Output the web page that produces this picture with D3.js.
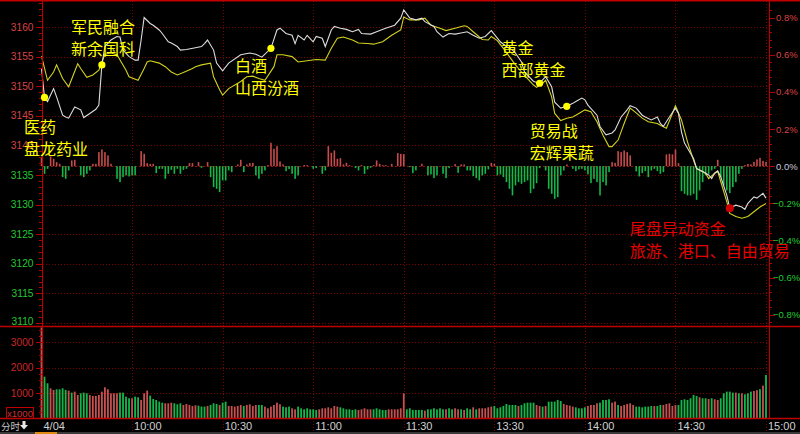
<!DOCTYPE html>
<html><head><meta charset="utf-8">
<script src="https://cdn.jsdelivr.net/npm/d3@7"></script>
<style>html,body{margin:0;padding:0;background:#000;overflow:hidden}svg{display:block}</style>
</head><body><svg id="c" width="800" height="434"></svg>
<script>
// ---------------- data ----------------
const preClose = 3136.5;
const priceTicks = [3110,3115,3120,3125,3130,3135,3140,3145,3150,3155,3160];
const pctTicks = [-0.8,-0.6,-0.4,-0.2,0,0.2,0.4,0.6,0.8];
const volTicks = [1000,2000,3000];
const timeTicks = [0,30,60,90,120,150,180,210,240];
const timeLabels = ["4/04","10:00","10:30","11:00","11:30","13:30","14:00","14:30","15:00"];

// index (white line): minute index since 9:30, value
const indexIdx = [0,1,2,4,5,7,8,9,11,13,14,16,18,19,20,21,23,25,26,27,29,31,32,33,34,36,37,39,40,42,43,45,46,48,51,53,54,55,57,58,60,62,66,69,71,73,76,78,79,81,83,84,85,87,88,90,91,93,94,96,97,99,101,103,105,106,109,111,114,117,119,120,122,124,126,127,130,131,133,135,137,139,141,143,145,147,149,152,154,156,157,159,160,163,165,167,169,170,172,174,176,177,179,180,181,184,185,187,189,190,192,194,195,197,199,200,202,204,205,206,208,210,211,212,213,216,217,219,221,222,223,224,225,227,228,230,232,233,234,236,237,239,240];
const indexVal = [3153.0,3148.1,3147.4,3149.6,3148.2,3145.1,3144.8,3144.6,3146.5,3146.0,3144.7,3145.4,3146.1,3146.8,3153.6,3156.7,3157.8,3158.4,3158.3,3156.1,3155.0,3154.4,3154.4,3157.8,3161.6,3160.6,3160.3,3159.5,3158.9,3157.5,3157.3,3156.7,3156.1,3156.2,3156.5,3156.7,3157.2,3157.8,3156.1,3153.9,3152.6,3153.9,3155.3,3155.6,3155.4,3154.9,3156.4,3159.5,3159.8,3158.9,3158.6,3157.2,3158.6,3157.8,3158.6,3157.5,3158.4,3158.1,3156.7,3159.5,3160.1,3159.8,3159.6,3159.2,3159.6,3158.9,3158.8,3159.2,3159.8,3160.3,3161.5,3162.9,3161.5,3161.2,3161.5,3160.9,3160.1,3159.2,3158.3,3158.9,3158.8,3159.0,3159.2,3158.6,3158.1,3158.4,3159.4,3157.5,3156.7,3156.1,3155.6,3154.1,3152.4,3150.8,3150.5,3151.6,3149.9,3147.3,3146.3,3146.6,3147.1,3147.4,3148.0,3147.7,3146.8,3145.1,3143.2,3141.8,3142.1,3142.6,3144.8,3146.0,3146.7,3146.3,3145.1,3144.8,3144.3,3144.8,3143.7,3143.2,3144.8,3146.3,3145.4,3142.3,3140.4,3137.8,3136.1,3135.6,3135.0,3134.4,3135.3,3135.7,3134.7,3131.6,3129.4,3129.9,3129.6,3129.2,3130.2,3131.3,3131.1,3131.9,3131.1];

// average (yellow line)
const avgIdx = [0,2,4,5,7,9,12,13,15,17,19,20,21,23,25,28,29,32,34,35,36,39,41,43,45,47,50,51,53,56,57,59,60,62,66,68,70,72,74,77,78,80,83,85,88,91,94,96,98,100,103,105,108,110,113,116,119,120,122,125,127,129,132,134,137,140,141,143,146,148,149,151,153,155,157,159,161,163,164,166,167,169,170,172,174,176,178,180,182,184,186,188,189,191,193,195,197,199,201,204,205,207,209,210,212,214,216,217,220,221,223,224,225,227,228,230,232,234,236,238,240];
const avgVal = [3155.1,3151.0,3152.4,3153.6,3151.3,3149.9,3153.8,3153.0,3151.5,3151.9,3152.7,3154.1,3155.4,3155.6,3155.3,3152.7,3151.6,3151.0,3153.0,3154.1,3154.3,3153.9,3153.3,3152.4,3151.9,3152.3,3153.0,3153.3,3153.6,3153.9,3151.6,3149.4,3148.5,3149.6,3150.8,3151.6,3151.7,3151.3,3151.0,3153.3,3155.3,3155.3,3155.0,3154.1,3154.3,3154.5,3154.4,3156.4,3158.1,3158.3,3157.8,3157.3,3157.2,3157.1,3157.5,3158.6,3159.5,3161.7,3161.2,3161.2,3161.5,3160.3,3159.8,3159.4,3159.8,3160.2,3160.1,3159.2,3157.9,3157.8,3158.4,3157.7,3156.4,3155.0,3153.6,3152.4,3151.3,3150.2,3149.8,3150.5,3151.0,3148.2,3145.4,3144.2,3144.6,3144.8,3145.4,3146.0,3145.7,3144.0,3141.7,3139.8,3139.8,3140.9,3143.7,3146.3,3145.5,3144.6,3144.0,3143.7,3143.4,3142.9,3145.4,3146.7,3144.3,3140.6,3137.5,3136.1,3135.3,3134.4,3135.3,3135.6,3133.9,3130.5,3128.5,3128.0,3127.7,3128.0,3128.8,3129.6,3130.2];

// buy/sell strength bars around the 0% line (positive red, negative green)
const strengthIdx = [0,1,2,3,4,5,6,7,8,9,10,11,13,14,15,16,17,18,19,20,21,22,23,25,26,27,28,29,30,31,33,34,35,36,37,38,39,40,41,42,43,44,45,46,47,48,49,50,52,53,55,56,57,58,59,60,61,62,63,65,66,67,68,69,70,71,72,73,74,75,76,77,78,79,80,81,82,83,84,85,87,88,90,91,93,94,95,96,97,98,99,100,101,102,104,105,106,107,108,109,110,111,112,113,114,116,118,119,120,122,123,124,126,128,129,130,131,133,134,135,137,138,139,140,141,142,143,144,145,146,147,148,149,150,151,152,153,154,155,156,157,158,159,160,161,162,163,164,165,167,168,169,170,171,172,173,174,176,177,178,179,180,181,182,183,184,185,186,187,188,189,190,191,192,193,194,195,197,198,199,200,201,202,203,204,205,206,207,208,209,210,211,212,213,214,215,216,217,218,219,220,221,222,223,224,225,226,227,228,229,230,231,232,233,234,235,236,237,238,239,240];
const strengthVal = [9,-7.7,-2.7,9.7,7.3,4,2.3,-11,-12.7,-4.3,5.7,6.3,-9.3,-11,-7.7,-4.3,2.3,2.3,14,16.7,14,10.7,2.3,-12.7,-16,-11,-9.3,-10.3,-9.3,-9.3,15,12.3,3,2.3,2.3,-7,-2.7,-2.7,-12.7,-7.7,-3.7,-7.7,-2.7,-7.7,-3.7,-2.7,3,3,4,-1.7,4,-11,-21,-22.7,-26,-14.3,-14.3,-4.3,-6,1.7,6.3,-6,1.7,3,3.3,-9.3,-12.7,-7.7,-4.3,1,23.3,17.3,20,4.7,1.7,-5,-3,-7.7,-12.7,-9.3,1,1,-2.7,-2,-7.7,-4.3,20,13.3,15.7,7.3,8,1.7,3.3,1,-2,-4.3,1,-7.7,-3.3,-1.7,1,5.7,2.3,1,1,2.3,13,12.3,12,-1,-7,-4.3,2.3,-9.3,-8.3,-12,-9.3,-7.7,-12,-2,2,-6.7,1.7,1.7,-4.3,-4.3,-10,-12,-14.3,-9.3,-7.7,-3.3,3.3,2.3,-9.3,-8.3,-11,-16,-22.7,-29.3,-19.3,-16,-17.7,-16,-14.3,-27,-22.7,-17,-2,-4.3,-22.7,-27.7,-32.7,-31,-9.3,-4.3,1.7,-2.7,-5,-3.3,-2.7,-4.3,-8.3,-17,-12.7,-16,-29.3,-16,-19.3,-6,4,3.3,15,14,15.7,14,10.7,-5.3,-10.3,-7,-5,-11,-4.3,-2.7,-5,-7.7,-6,11.7,12.3,11.7,16.7,3,-25,-27.7,-29.3,-29.3,-27.7,-33.7,-24.3,-16,-9.3,-7.7,-4.3,-2.7,6.3,-11,-19.3,-24.3,-27,-21,-16,-7.7,-2.7,1,2,1.7,4.3,6.7,8.3,5.3,4.3];

// volume (x1000) per minute, and 1 = up (red) / 0 = down (green)
const volume = [4200,1645,1382,1184,1119,1145,1145,1184,1119,1092,
1013,1053,921,987,1013,987,921,882,882,921,
1053,1224,1145,987,987,987,1013,1013,855,790,
790,855,829,724,987,1092,895,763,724,658,
618,592,592,618,592,553,592,526,566,526,
487,513,500,461,461,487,526,592,566,526,
618,658,487,487,461,487,526,487,526,553,
487,526,526,526,461,395,461,526,618,553,
461,434,461,395,355,461,395,355,395,355,
355,329,355,395,395,434,395,487,461,434,
395,355,355,329,355,329,355,395,355,355,
355,395,355,329,329,355,355,355,355,395,
987,355,395,329,329,329,329,303,355,355,
395,355,395,355,355,395,355,395,355,355,
329,395,355,434,355,395,395,395,434,461,
487,395,434,487,566,526,526,526,487,526,
592,618,618,618,526,487,461,487,658,658,
658,724,684,566,526,500,461,434,395,395,
434,487,526,526,592,618,724,724,750,618,
658,526,487,526,566,592,526,461,461,434,
461,461,487,487,487,526,526,566,592,487,
526,526,724,750,724,790,921,882,829,790,
790,763,790,750,724,790,987,1053,1053,1013,
1013,987,987,947,987,1053,1080,1110,1150,1290,
1711];
const volumeUp = [1,0,0,1,1,0,0,0,0,1,
0,1,1,0,0,0,1,1,1,1,
1,1,1,1,1,1,0,0,0,0,
1,0,0,1,1,1,0,0,0,0,
0,1,1,1,0,0,0,1,1,1,
1,1,0,0,0,1,0,0,0,1,
0,0,1,1,1,1,1,0,1,1,
1,1,0,0,1,1,1,1,1,1,
0,0,0,1,1,0,0,0,0,0,
0,0,1,1,1,1,1,1,1,0,
0,0,0,0,0,1,1,1,1,1,
0,0,0,0,0,1,1,1,1,1,
1,0,0,0,0,0,0,1,0,0,
0,0,0,0,1,0,0,1,1,0,
1,0,0,1,0,1,1,1,1,1,
0,0,0,0,0,0,0,0,1,0,
0,0,0,0,1,1,0,1,0,0,
0,0,0,1,1,1,1,0,0,0,
0,1,1,1,1,0,0,0,0,1,
1,0,1,1,1,1,1,0,0,0,
0,0,0,1,0,0,1,1,1,1,
1,0,0,0,0,0,0,0,1,0,
0,1,0,1,1,0,0,0,0,0,
1,0,1,0,0,0,1,1,0,1,
0];

// annotations: dot at (minute, price)
const noteIdx = [1,20,76,165,174,228];
const notePrice = [3148.1,3153.6,3156.4,3150.5,3146.6,3129.4];
const noteLines = [["医药","盘龙药业"],["军民融合","新余国科"],["白酒","山西汾酒"],["黄金","西部黄金"],["贸易战","宏辉果蔬"],["尾盘异动资金","旅游、港口、自由贸易"]];
const noteKind = ["y","y","y","y","y","r"];

// ---------------- drawing ----------------
const svg = d3.select("#c");
const W = 800, H = 434;
const AX = "#b00000", GRID = "#7a0000";
const numFont = "'Liberation Sans', Arial, sans-serif";
const cjkFont = "'Noto Sans CJK SC', sans-serif";

svg.append("rect").attr("width", W).attr("height", H).attr("fill", "#000");

const x = d3.scaleLinear().domain([0, 240]).range([41.5, 766]);
const y = d3.scaleLinear().domain([3110, 3160]).range([323, 27]);
const yv = d3.scaleLinear().domain([0, 3000]).range([418.3, 342.3]);
const s = d3.scaleLinear().domain([0, 10]).range([0, 10]);
const baseY = y(preClose);
const VTOP = 326.5, VBOT = 418.5;

// horizontal grid (price)
svg.append("g").selectAll("line").data(priceTicks).join("line")
  .attr("x1", 43).attr("x2", 768)
  .attr("y1", d => Math.round(y(d)) + 0.5).attr("y2", d => Math.round(y(d)) + 0.5)
  .attr("stroke", GRID).attr("stroke-dasharray", "1,2");
// zero line
svg.append("line").attr("x1", 43).attr("x2", 768)
  .attr("y1", Math.round(baseY) + 0.5).attr("y2", Math.round(baseY) + 0.5)
  .attr("stroke", "#9a1010").attr("stroke-dasharray", "2,2");
// volume grid
svg.append("g").selectAll("line").data(volTicks).join("line")
  .attr("x1", 43).attr("x2", 768)
  .attr("y1", d => Math.round(yv(d)) + 0.5).attr("y2", d => Math.round(yv(d)) + 0.5)
  .attr("stroke", GRID).attr("stroke-dasharray", "1,2");
// vertical grid
svg.append("g").selectAll("line").data(timeTicks.slice(1)).join("line")
  .attr("x1", d => Math.round(x(d)) + 0.5).attr("x2", d => Math.round(x(d)) + 0.5)
  .attr("y1", 1).attr("y2", 432)
  .attr("stroke", GRID).attr("stroke-dasharray", "1,2");

// strength bars
const sb = strengthIdx.map((m, i) => ({m, v: strengthVal[i]}));
svg.append("g").selectAll("rect").data(sb).join("rect")
  .attr("x", d => x(d.m) - 0.75).attr("width", 1.6)
  .attr("y", d => d.v > 0 ? baseY - s(d.v) : baseY)
  .attr("height", d => Math.max(0.8, s(Math.abs(d.v))))
  .attr("fill", d => d.v > 0 ? "#c94a4a" : "#14b848");

// volume bars
const vb = volume.map((v, i) => ({m: i, v, up: volumeUp[i]}));
svg.append("g").selectAll("rect").data(vb).join("rect")
  .attr("x", d => x(d.m) - 0.9).attr("width", 1.8)
  .attr("y", d => Math.max(VTOP + 1, yv(d.v)))
  .attr("height", d => VBOT - Math.max(VTOP + 1, yv(d.v)))
  .attr("fill", d => d.up ? "#c85050" : "#14b84a");

// lines
const lineGen = d3.line().x(d => x(d[0])).y(d => y(d[1]));
svg.append("path").datum(avgIdx.map((m, i) => [m, avgVal[i]]))
  .attr("d", lineGen).attr("fill", "none").attr("stroke", "#d2d21e").attr("stroke-width", 1.1);
svg.append("path").datum(indexIdx.map((m, i) => [m, indexVal[i]]))
  .attr("d", lineGen).attr("fill", "none").attr("stroke", "#dcdcdc").attr("stroke-width", 1.1);

// axes frame
const frame = svg.append("g").attr("stroke", AX).attr("stroke-width", 1);
frame.append("line").attr("x1", 0).attr("x2", W).attr("y1", 0.5).attr("y2", 0.5).attr("stroke", "#c00000").attr("stroke-width", 2);
frame.append("line").attr("x1", 0).attr("x2", W).attr("y1", 326.5).attr("y2", 326.5).attr("stroke", "#c00000").attr("stroke-width", 1.5);
frame.append("line").attr("x1", 0).attr("x2", W).attr("y1", 418.5).attr("y2", 418.5).attr("stroke", "#c00000").attr("stroke-width", 1.5);
frame.append("line").attr("x1", 42.5).attr("x2", 42.5).attr("y1", 0).attr("y2", 419).attr("stroke", "#c00000");
frame.append("line").attr("x1", 769.5).attr("x2", 769.5).attr("y1", 0).attr("y2", 419).attr("stroke", "#c00000");

// left price ticks
const minorP = d3.range(3110, 3165, 1);
frame.append("g").selectAll("line").data(minorP).join("line")
  .attr("x1", d => d % 5 === 0 ? 36 : 39).attr("x2", 42)
  .attr("y1", d => Math.round(y(d)) + 0.5).attr("y2", d => Math.round(y(d)) + 0.5);
// right pct ticks
const pctToY = p => y(preClose * (1 + p / 100));
const minorPct = d3.range(-0.84, 0.861, 0.04);
frame.append("g").selectAll("line").data(minorPct).join("line")
  .attr("x1", 770).attr("x2", d => Math.abs(Math.round(d * 100) % 20) === 0 ? 775 : 772)
  .attr("y1", d => Math.round(pctToY(d)) + 0.5).attr("y2", d => Math.round(pctToY(d)) + 0.5);
// volume ticks
const minorV = d3.range(0, 3700, 250);
frame.append("g").selectAll("line").data(minorV).join("line")
  .attr("x1", d => d % 1000 === 0 ? 36 : 39).attr("x2", 42)
  .attr("y1", d => Math.round(yv(d)) + 0.5).attr("y2", d => Math.round(yv(d)) + 0.5);

// price labels
svg.append("g").selectAll("text").data(priceTicks).join("text")
  .attr("x", 33.5).attr("y", d => y(d) + (d === 3110 ? 1.5 : 3.6))
  .attr("text-anchor", "end").attr("font-family", numFont).attr("font-size", 10.2)
  .attr("fill", d => d > preClose ? "#d84444" : "#22c832").text(d => d);
// pct labels
svg.append("g").selectAll("text").data(pctTicks).join("text")
  .attr("x", d => d < 0 ? 773 : 776).attr("y", d => pctToY(d) + 3.6)
  .attr("font-family", numFont).attr("font-size", 9.5)
  .attr("fill", d => d > 0 ? "#d84444" : (d < 0 ? "#22c832" : "#c8c8dc"))
  .text(d => d3.format(".1f")(d) + "%");
// volume labels
svg.append("g").selectAll("text").data(volTicks).join("text")
  .attr("x", 33.5).attr("y", d => yv(d) + 3.6)
  .attr("text-anchor", "end").attr("font-family", numFont).attr("font-size", 10.2)
  .attr("fill", "#c82828").text(d => d);
svg.append("rect").attr("x", 6.5).attr("y", 407.5).attr("width", 27).attr("height", 11)
  .attr("fill", "none").attr("stroke", "#c00000");
svg.append("text").attr("x", 20).attr("y", 416.5).attr("text-anchor", "middle")
  .attr("font-family", numFont).attr("font-size", 9.5).attr("fill", "#d03030").text("x1000");

// time labels
svg.append("g").selectAll("text").data(timeTicks).join("text")
  .attr("x", d => x(d) + 2).attr("y", 430)
  .attr("font-family", numFont).attr("font-size", 11).attr("fill", "#d0d0d0")
  .text((d, i) => timeLabels[i]);
svg.append("text").attr("x", 1).attr("y", 430).attr("font-family", cjkFont)
  .attr("font-size", 9.5).attr("fill", "#c8c8c8").text("分时");
svg.append("path").attr("d", "M22.5,421 h3 v4 h2.5 l-4,4.5 l-4,-4.5 h2.5 z").attr("fill", "#e8e8e8");
svg.append("rect").attr("x", 0).attr("y", 432).attr("width", W).attr("height", 2).attr("fill", "#3a3a3a");
svg.append("rect").attr("x", 35).attr("y", 432).attr("width", 22).attr("height", 2).attr("fill", "#e08a10");

// annotations
const notes = noteIdx.map((m, i) => ({m, p: notePrice[i], lines: noteLines[i], kind: noteKind[i]}));
const offs = [[-20.5, 36], [-31, -32], [-36, 24], [-38, -29], [-37, 31], [-100, 27]];
const ng = svg.append("g");
notes.forEach((n, i) => {
  const cx = x(n.m), cy = y(n.p);
  const col = n.kind === "r" ? "#e60000" : "#ffff00";
  ng.append("circle").attr("cx", cx).attr("cy", cy).attr("r", n.kind === "r" ? 4 : 3.6).attr("fill", n.kind === "r" ? "#d00000" : "#ffff00");
  n.lines.forEach((t, j) => {
    ng.append("text").attr("x", cx + offs[i][0]).attr("y", cy + offs[i][1] + j * 22)
      .attr("font-family", cjkFont).attr("font-size", 16).attr("fill", col).text(t);
  });
});
</script>
</body></html>
